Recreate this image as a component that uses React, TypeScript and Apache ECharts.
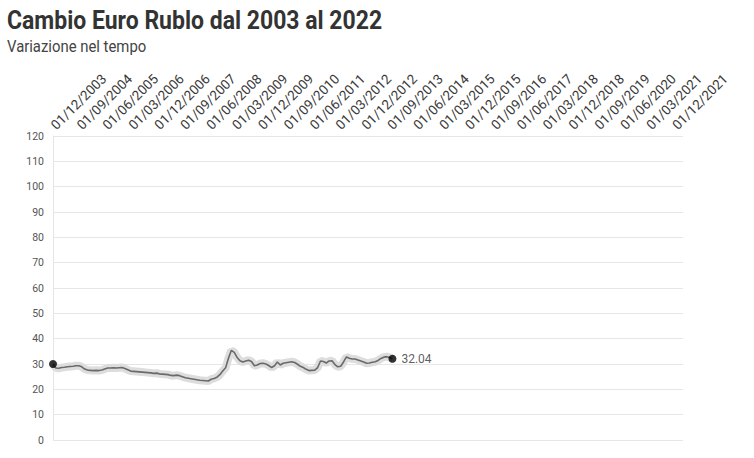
import React, { useEffect, useRef } from "react";
import * as echarts from "echarts";

// monthly rate, from 01/12/2003
const rates = [
  30.0, 28.4, 28.3, 28.6, 28.7, 28.9, 29.0, 29.1, 29.3, 29.3,
  28.9, 28.0, 27.6, 27.5, 27.4, 27.5, 27.4, 27.6, 28.0, 28.4,
  28.4, 28.5, 28.4, 28.5, 28.6, 28.2, 27.7, 27.2, 27.1, 27.0,
  26.9, 26.8, 26.7, 26.6, 26.5, 26.3, 26.4, 26.1, 26.0, 25.9,
  25.8, 25.5, 25.4, 25.6, 25.4, 25.0, 24.6, 24.4, 24.2, 24.0,
  23.8, 23.6, 23.5, 23.4, 23.3, 24.0, 24.3, 24.8, 25.8, 27.2,
  28.5, 32.3, 35.4, 34.6, 32.6, 31.3, 30.8, 31.2, 31.5, 31.0,
  29.3, 29.6, 30.2, 30.3, 30.0, 29.4, 28.6, 29.3, 30.8, 29.6,
  30.3, 30.5, 30.7, 30.9, 30.6, 29.9, 29.1, 28.6, 27.9, 27.4,
  27.5, 27.6, 28.6, 31.2, 31.0, 30.4, 31.2, 31.3, 29.8, 28.9,
  29.1, 30.8, 32.8, 32.3, 32.0, 32.0, 31.6, 31.2, 30.8, 30.3,
  30.4, 30.7, 30.9, 31.4, 32.2, 32.7, 32.9, 32.6, 32.04,
];

const startYear = 2003;
const startMonth = 12;
const monthCount = 220; // 12/2003 .. 03/2022

const months: string[] = [];
for (let k = 0; k < monthCount; k++) {
  const m = ((startMonth - 1 + k) % 12) + 1;
  const y = startYear + Math.floor((startMonth - 1 + k) / 12);
  months.push(`01/${String(m).padStart(2, "0")}/${y}`);
}

const title = "Cambio Euro Rublo dal 2003 al 2022";
const subtitle = "Variazione nel tempo";

const App: React.FC = () => {
  const chartRef = useRef<HTMLDivElement>(null);

  useEffect(() => {
    if (!chartRef.current) return;
    document.body.style.margin = "0";
    const chart = echarts.init(chartRef.current, null, { renderer: "svg" });

    const last = rates.length - 1;

    const option: echarts.EChartsOption = {
      animation: false,
      textStyle: { fontFamily: "Roboto" },
      // squeezed Roboto stands in for the condensed heading font
      graphic: [
        {
          type: "text",
          x: 7,
          y: 8,
          scaleX: 0.92,
          style: {
            text: title,
            fontFamily: "Roboto",
            fontSize: 25,
            fontWeight: "bold",
            fill: "#333",
            verticalAlign: "top",
          },
        },
        {
          type: "text",
          x: 7,
          y: 39,
          scaleX: 0.93,
          style: {
            text: subtitle,
            fontFamily: "Roboto",
            fontSize: 16,
            fill: "#444",
            verticalAlign: "top",
          },
        },
      ],
      grid: { left: 53, right: 71, top: 136, bottom: 18 },
      xAxis: {
        type: "category",
        position: "top",
        boundaryGap: false,
        data: months,
        axisLine: { show: false },
        axisTick: { show: false },
        splitLine: { show: false },
        axisLabel: {
          interval: 8,
          rotate: 45,
          fontSize: 13.5,
          color: "#3a3a3a",
          margin: 9,
        },
      },
      yAxis: {
        type: "value",
        min: 0,
        max: 120,
        interval: 10,
        axisLine: { show: true, lineStyle: { color: "#e6e6e6" } },
        axisTick: { show: false },
        splitLine: { lineStyle: { color: "#e6e6e6" } },
        axisLabel: { fontSize: 10.5, color: "#555", margin: 9 },
      },
      series: [
        {
          name: "halo",
          type: "line",
          data: rates,
          symbol: "none",
          lineStyle: { color: "#dddddd", width: 8 },
          z: 1,
        },
        {
          name: "Cambio",
          type: "line",
          data: rates,
          symbol: "none",
          lineStyle: { color: "#6a6a6a", width: 1.6 },
          z: 2,
        },
        {
          name: "estremi",
          type: "scatter",
          symbolSize: 8,
          itemStyle: { color: "#000" },
          z: 3,
          data: [
            [months[0], rates[0]],
            {
              value: [months[last], rates[last]],
              label: {
                show: true,
                position: "right",
                distance: 5,
                formatter: () => rates[last].toFixed(2),
                fontSize: 12,
                color: "#333",
              },
            },
          ],
        },
      ],
    };

    chart.setOption(option);

    return () => {
      chart.dispose();
    };
  }, []);

  return <div ref={chartRef} style={{ width: 754, height: 458 }} />;
};

export default App;
